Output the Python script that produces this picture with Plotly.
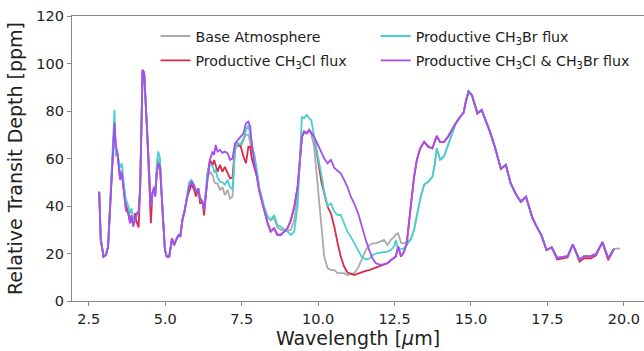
import plotly.graph_objects as go

wavelength = [2.84, 2.89, 2.98, 3.06, 3.13, 3.22, 3.28, 3.34, 3.38, 3.44,
              3.52, 3.58, 3.64, 3.71, 3.79, 3.85, 3.90, 3.95, 4.01, 4.07,
              4.13, 4.18, 4.26, 4.31, 4.40, 4.47, 4.53, 4.58, 4.64, 4.67,
              4.72, 4.77, 4.83, 4.91, 4.99, 5.05, 5.13, 5.22, 5.29, 5.38,
              5.45, 5.49, 5.56, 5.64, 5.71, 5.78, 5.86, 5.94, 6.01, 6.08,
              6.14, 6.22, 6.27, 6.33, 6.38, 6.46, 6.55, 6.60, 6.65, 6.71,
              6.79, 6.87, 6.95, 7.04, 7.12, 7.20, 7.28, 7.36, 7.47, 7.56,
              7.64, 7.72, 7.78, 7.83, 7.91, 8.00, 8.07, 8.15, 8.23, 8.35,
              8.45, 8.56, 8.67, 8.78, 8.89, 9.00, 9.11, 9.22, 9.33, 9.41,
              9.47, 9.54, 9.63, 9.71, 9.78, 9.87, 9.95, 10.03, 10.11, 10.20,
              10.31, 10.42, 10.53, 10.64, 10.74, 10.85, 10.96, 11.07, 11.18, 11.31,
              11.43, 11.56, 11.67, 11.78, 11.89, 12.05, 12.16, 12.27, 12.38, 12.49,
              12.54, 12.62, 12.71, 12.81, 12.90, 13.03, 13.14, 13.23, 13.34, 13.47,
              13.60, 13.74, 13.82, 13.88, 13.99, 14.12, 14.25, 14.40, 14.50, 14.65,
              14.76, 14.83, 14.92, 15.03, 15.13, 15.21, 15.35, 15.49, 15.63, 15.79,
              15.98, 16.14, 16.30, 16.47, 16.63, 16.80, 16.90, 17.01, 17.15, 17.31,
              17.47, 17.64, 17.82, 17.99, 18.16, 18.33, 18.55, 18.70, 18.92, 19.09,
              19.30, 19.49, 19.68, 19.88]

base_atm = [46, 26, 18.7, 19.4, 22.9, 48, 64, 75, 64, 62,
            53, 55, 48, 41, 38, 34, 36, 32, 34, 36,
            37, 48, 97.3, 96, 73.4, 52.3, 40, 45.3, 48, 44,
            54, 60, 57, 38.3, 21.5, 18.7, 18.7, 26.4, 23.5, 26.5,
            28, 27, 34, 38.3, 44, 48, 50, 48, 46, 47.4,
            43.2, 41.8, 38.3, 45, 52, 54.4, 53, 50.2, 49.5, 49.5,
            46.7, 48, 44.6, 46.7, 43.2, 44, 63.6, 65.3, 65, 67.8,
            70, 70, 66, 64, 62, 55, 48, 44, 39.7, 35.5,
            34, 35, 31, 30, 30, 29.5, 30, 34, 44, 60,
            69, 71.3, 70.6, 72, 70, 65, 53.8, 39.7, 28.5, 18.7,
            13.8, 13, 13, 11.7, 11.7, 11.7, 10.9, 11.2, 11.7, 14,
            18, 21.5, 23.5, 24.3, 24.3, 25, 25.7, 23.6, 25.7, 27,
            28, 28.5, 24.5, 24.3, 25, 26, 30, 35.5, 43, 49,
            50.2, 52.3, 58, 64.3, 59.5, 61, 65.7, 71.5, 74.8, 77.6,
            79.3, 83.9, 88.1, 86.7, 82.5, 79, 80.4, 76, 71, 64.5,
            55.6, 57.3, 49.5, 45, 41.8, 43.9, 39.7, 35, 31.3, 27.5,
            21.5, 22.6, 18.2, 18.4, 18.9, 23.8, 17.5, 19, 19, 19.8,
            24.8, 18, 22, 22.2]

ch3cl_flux = [46, 26, 18.7, 19.4, 22.9, 48, 64, 75, 64, 62,
              52, 54, 47, 40, 37, 33, 36, 32, 37, 33,
              31, 48, 97.3, 96, 73.4, 52.3, 32.8, 45.3, 48, 44,
              53.8, 58, 56.5, 38.3, 21.5, 18.7, 18.7, 26.4, 23.5, 26.5,
              28, 27, 34, 38.3, 43.9, 46, 49, 47, 44, 47.4,
              41, 41.8, 36, 45, 53, 59.4, 57.3, 59.4, 57, 54.4,
              57.3, 54.4, 56.5, 53.8, 51.6, 52, 65, 66.4, 65, 60.8,
              58, 65, 65, 60, 56, 52.3, 46.7, 42.5, 38.3, 32.7,
              29.2, 30.6, 27.8, 28, 29.2, 30.6, 34, 39.7, 48, 60,
              69, 71.3, 70.6, 72, 70.6, 69.2, 63, 56, 50, 45.3,
              39.7, 36.9, 31.3, 24.3, 18.7, 14.5, 12, 11.5, 10.9, 11.5,
              12.2, 12.7, 13, 13.5, 14, 15, 15.5, 15.9, 17.2, 18.3,
              18.7, 22.9, 18.7, 20.8, 24.3, 39.7, 52.3, 59.4, 64.3, 67,
              65, 64.3, 67, 69.5, 67, 67, 69.2, 72.7, 74.8, 77.6,
              79.3, 83.9, 88.1, 86.7, 82.5, 79, 80.4, 76, 71, 64.5,
              55.6, 57.3, 49.5, 45, 41.8, 43.9, 39.7, 35, 31.3, 27.5,
              21.5, 22.6, 17.5, 17.8, 18.3, 23.8, 16.6, 18, 18, 19.2,
              24.8, 17.2, 22, None]

ch3br_flux = [46, 26, 18.7, 19.4, 22.9, 48, 66, 80.5, 61, 62,
              56, 58, 50, 43, 40, 37, 39, 33, 34, 36,
              38, 48, 97.3, 96, 73.4, 52.3, 40, 45.3, 48, 44,
              57, 63, 60, 38.3, 21.5, 18.7, 18.7, 26.4, 23.5, 26.5,
              28, 27, 34, 38.3, 45, 50, 51, 49, 46, 47.4,
              43.2, 41.8, 38.3, 47, 54, 57.3, 57, 54.4, 55, 52,
              50.2, 50, 49, 51, 48, 47, 64, 66.4, 66, 68.5,
              72, 74, 70, 66, 62, 55, 48, 44, 39.7, 35.5,
              34.1, 36.2, 32, 31.3, 30, 29.2, 27.8, 29.2, 40, 62,
              77.6, 76.9, 78.3, 77, 76, 69.2, 64, 58.5, 53, 46,
              40, 41.1, 37.6, 36.2, 36.2, 32.7, 29.2, 27, 24.3, 21.5,
              18.5, 17.5, 17.8, 19.4, 20, 20.4, 20.6, 20.8, 21.5, 23,
              25.7, 21.5, 21.8, 22.2, 23.5, 26, 30, 35.5, 43, 49,
              50.2, 52.3, 58, 64.3, 59.5, 61, 65.7, 71.5, 74.8, 77.6,
              79.3, 83.9, 88.8, 86.7, 82.5, 79, 80.4, 76, 71, 64.5,
              55.6, 57.3, 49.5, 45, 41.8, 43.9, 39.7, 35, 31.3, 27.5,
              21.5, 22.6, 18.2, 18.4, 18.9, 23.8, 17.5, 19, 19, 19.8,
              24.8, 18, 22, None]

both_flux = [46, 26, 18.7, 19.4, 22.9, 48, 64, 75, 66, 62,
             51, 54, 47, 38.3, 37, 32.7, 36, 31.3, 34, 37,
             37.6, 48, 97.3, 96, 73.4, 52.3, 39.7, 45.3, 48, 44,
             53.8, 58, 56.5, 38.3, 21.5, 18.7, 18.7, 26.4, 23.5, 26.5,
             28, 27, 34, 38.3, 43.9, 48, 50.2, 48.8, 46, 47.4,
             43.2, 41.8, 38.3, 45.3, 52.3, 59.4, 62.9, 61.5, 65.7, 62.9,
             63.6, 62.4, 62.9, 62.2, 59.4, 60, 66.4, 67.8, 69.2, 70.6,
             74.8, 75.5, 73.4, 66.4, 58, 52.3, 46.7, 42.5, 38.3, 32.7,
             29.2, 30.6, 27.8, 27.8, 29.2, 30.6, 34.1, 39.7, 48, 60.7,
             69.2, 71.3, 70.6, 72, 70.6, 69.2, 67, 64.5, 62, 60,
             58, 59.4, 56, 55, 53.8, 51, 48, 43.9, 41.1, 36.9,
             31.3, 25.7, 21.5, 18, 15.9, 15.2, 15.5, 15.9, 17.2, 18.3,
             18.7, 22.9, 18.7, 20.8, 24.3, 39.7, 52.3, 59.4, 64.3, 67,
             65, 64.3, 67, 69.5, 67, 67, 69.2, 72.7, 74.8, 77.6,
             79.3, 83.9, 88.1, 86.7, 82.5, 79, 80.4, 76, 71, 64.5,
             55.6, 57.3, 49.5, 45, 41.8, 43.9, 39.7, 35, 31.3, 27.5,
             21.5, 22.6, 18.2, 18.4, 18.9, 23.8, 17.3, 18.9, 18.9, 19.7,
             24.8, 18, 22, None]

series_names = ["Base Atmosphere", "Productive CH<sub>3</sub>Cl flux",
                "Productive CH<sub>3</sub>Br flux",
                "Productive CH<sub>3</sub>Cl &amp; CH<sub>3</sub>Br flux"]
series_values = [base_atm, ch3cl_flux, ch3br_flux, both_flux]
series_colors = ["#aaaaaa", "#dc2a4a", "#48d0d0", "#a64ef0"]
series_legend = ["legend", "legend", "legend2", "legend2"]
x_ticks = [2.5, 5.0, 7.5, 10.0, 12.5, 15.0, 17.5, 20.0]
y_ticks = [0, 20, 40, 60, 80, 100, 120]

fig = go.Figure()
for i, (name, vals, col, lg) in enumerate(zip(series_names, series_values,
                                             series_colors, series_legend)):
    fig.add_trace(go.Scatter(x=wavelength, y=vals, mode="lines", name=name,
                             line=dict(color=col, width=1.8), legend=lg,
                             legendgroup=f"g{i}", connectgaps=False))

font_family = "DejaVu Sans"
axis_col = "#8a8a8a"
leg_common = dict(xanchor="left", yanchor="top", bgcolor="rgba(0,0,0,0)",
                  font=dict(size=14.2, family=font_family), tracegroupgap=3,
                  itemwidth=30)
fig.update_layout(
    width=644, height=351,
    margin=dict(l=72, r=0, t=16, b=50),
    paper_bgcolor="white", plot_bgcolor="white",
    font=dict(family=font_family, color="#222222", size=14),
    showlegend=True,
    legend=dict(x=0.146, y=0.985, **leg_common),
    legend2=dict(x=0.531, y=0.985, **leg_common),
    xaxis=dict(range=[1.95, 20.66], tickvals=x_ticks,
               ticktext=[f"{v:.1f}" for v in x_ticks],
               showgrid=False, zeroline=False, showline=True, linecolor=axis_col,
               linewidth=1.2, mirror=True, ticks="outside", ticklen=4,
               tickcolor=axis_col, tickfont=dict(size=14.5),
               title=dict(text="Wavelength [<i>μ</i>m]", font=dict(size=19), standoff=6)),
    yaxis=dict(range=[0, 120], tickvals=y_ticks, showgrid=False, zeroline=False,
               showline=True, linecolor=axis_col, linewidth=1.2, ticks="outside",
               ticklen=4, tickcolor=axis_col, tickfont=dict(size=14.5),
               title=dict(text="Relative Transit Depth [ppm]", font=dict(size=19),
                          standoff=8)),
)

fig.write_html("out.html")
